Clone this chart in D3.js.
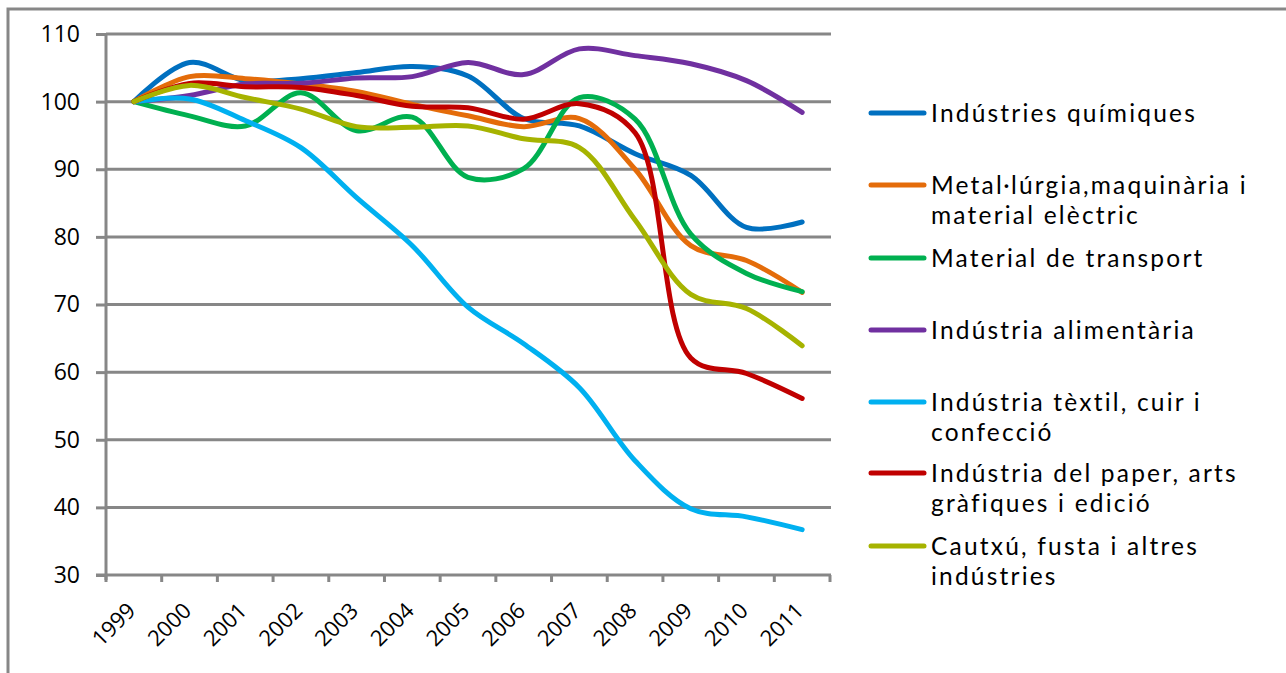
<!DOCTYPE html>
<html lang='en'>
<head>
<meta charset='utf-8'>
<script src='https://cdnjs.cloudflare.com/ajax/libs/d3/7.8.5/d3.min.js'></script>
<title>Índex de producció industrial</title>
<style>
body {
   margin:0;
   overflow:hidden;
   background:white;
}
text {
   font-family:'Open Sans', sans-serif;
   font-feature-settings:"locl" 0;
   fill:black;
}
.legtext {
   font-family:Lato, 'Open Sans', sans-serif;
}
</style>
</head>
<body>
<script>
var years = ['1999','2000','2001','2002','2003','2004','2005','2006','2007','2008','2009','2010','2011'];
var yTicks = [30, 40, 50, 60, 70, 80, 90, 100, 110];
var names = [
   'Indústries químiques',
   'Metal·lúrgia,maquinària i\nmaterial elèctric',
   'Material de transport',
   'Indústria alimentària',
   'Indústria tèxtil, cuir i\nconfecció',
   'Indústria del paper, arts\ngràfiques i edició',
   'Cautxú, fusta i altres\nindústries'
];
var colors = ['#0070C0', '#E46C0A', '#00B050', '#7030A0', '#00B0F0', '#C00000', '#A6B300'];
var quimiques   = [100, 105.8, 103.1, 103.4, 104.3, 105.2, 103.8, 97.5, 96.4, 92.3, 89.1, 81.4, 82.2];
var metall      = [100, 103.7, 103.4, 102.6, 101.5, 99.6, 97.9, 96.3, 97.5, 90.0, 78.7, 76.5, 71.8];
var transport   = [100, 97.9, 96.4, 101.3, 95.7, 97.7, 88.8, 90.1, 100.6, 97.4, 80.4, 74.6, 71.9];
var alimentaria = [100, 100.9, 102.6, 102.7, 103.5, 103.7, 105.8, 104.0, 107.8, 106.8, 105.6, 103.1, 98.4];
var textil      = [100, 100.4, 97.2, 93.2, 85.8, 78.7, 69.6, 64.2, 57.7, 46.9, 39.8, 38.6, 36.7];
var paper       = [100, 102.7, 102.2, 102.1, 100.9, 99.3, 99.1, 97.4, 99.7, 95.4, 62.1, 59.8, 56.1];
var cautxu      = [100, 102.4, 100.6, 98.9, 96.3, 96.2, 96.4, 94.5, 93.2, 82.5, 71.5, 69.4, 63.9];
var series = [quimiques, metall, transport, alimentaria, textil, paper, cautxu];

var W = 1286, H = 673;
var plotL = 106, plotR = 830, plotT = 34, plotB = 575;
var gridCol = '#878787';

var svg = d3.select('body').append('svg').attr('width', W).attr('height', H);

// chart border (runs off the page to the right and bottom)
svg.append('rect')
   .attr('x', 8).attr('y', 9).attr('width', W + 20).attr('height', H + 20)
   .style('fill', 'none').style('stroke', gridCol).style('stroke-width', 3);

var x = d3.scalePoint().domain(years).range([plotL, plotR]).padding(0.5);
var xb = d3.scaleBand().domain(years).range([plotL, plotR]);
var y = d3.scaleLinear().domain([30, 110]).range([plotB, plotT]);

// gridlines
svg.append('g').selectAll('line')
   .data(yTicks.filter(function(d){return d > 30;}))
   .enter().append('line')
   .attr('x1', plotL).attr('x2', plotR + 1)
   .attr('y1', function(d){return y(d);}).attr('y2', function(d){return y(d);})
   .style('stroke', gridCol).style('stroke-width', 3);

// y axis
var yAxis = svg.append('g')
   .attr('transform', 'translate(' + plotL + ',0)')
   .call(d3.axisLeft(y).tickValues(yTicks).tickSize(10).tickPadding(16));
yAxis.select('.domain').style('stroke', gridCol).style('stroke-width', 3)
   .attr('d', 'M0,' + plotT + 'V' + (plotB + 5));
yAxis.selectAll('.tick line').style('stroke', gridCol).style('stroke-width', 3);
yAxis.selectAll('.tick text').style('font-size', '23px').style('font-family', "'Open Sans', sans-serif").style('fill', 'black');

// x axis
var xg = svg.append('g');
xg.append('line')
   .attr('x1', plotL - 10).attr('x2', plotR + 1).attr('y1', plotB).attr('y2', plotB)
   .style('stroke', gridCol).style('stroke-width', 3);
xg.selectAll('.xtick')
   .data(years.map(function(d){return xb(d);}).concat([plotR]))
   .enter().append('line')
   .attr('class', 'xtick')
   .attr('x1', function(d){return d;}).attr('x2', function(d){return d;})
   .attr('y1', plotB).attr('y2', plotB + 7)
   .style('stroke', gridCol).style('stroke-width', 3);
xg.selectAll('.xlab')
   .data(years)
   .enter().append('text')
   .attr('class', 'xlab')
   .attr('transform', function(d){return 'translate(' + (x(d) + 3) + ',' + (plotB + 37) + ') rotate(-45)';})
   .attr('text-anchor', 'end')
   .style('font-size', '22px')
   .text(function(d){return d;});

// lines
var line = d3.line()
   .x(function(d, i){return x(years[i]);})
   .y(function(d){return y(d);})
   .curve(d3.curveCatmullRom.alpha(0.5));
svg.append('g').selectAll('path')
   .data(series)
   .enter().append('path')
   .attr('d', line)
   .style('fill', 'none')
   .style('stroke', function(d, i){return colors[i];})
   .style('stroke-width', 5)
   .style('stroke-linecap', 'round')
   .style('stroke-linejoin', 'round');

// legend
var legY = [113, 185, 258, 330, 402, 473, 546];
var leg = svg.append('g').selectAll('g')
   .data(names)
   .enter().append('g')
   .attr('transform', function(d, i){return 'translate(870,' + legY[i] + ')';});
leg.append('line')
   .attr('x1', 1).attr('x2', 54).attr('y1', 0).attr('y2', 0)
   .style('stroke', function(d, i){return colors[i];})
   .style('stroke-width', 5)
   .style('stroke-linecap', 'round');
leg.append('text')
   .attr('class', 'legtext')
   .attr('x', 61)
   .attr('y', 9)
   .style('font-size', '24.5px')
   .style('letter-spacing', '2.2px')
   .selectAll('tspan')
   .data(function(d){return d.split('\n');})
   .enter().append('tspan')
   .attr('x', 61)
   .attr('dy', function(d, i){return i === 0 ? 0 : 30;})
   .text(function(d){return d;});
</script>
</body>
</html>
